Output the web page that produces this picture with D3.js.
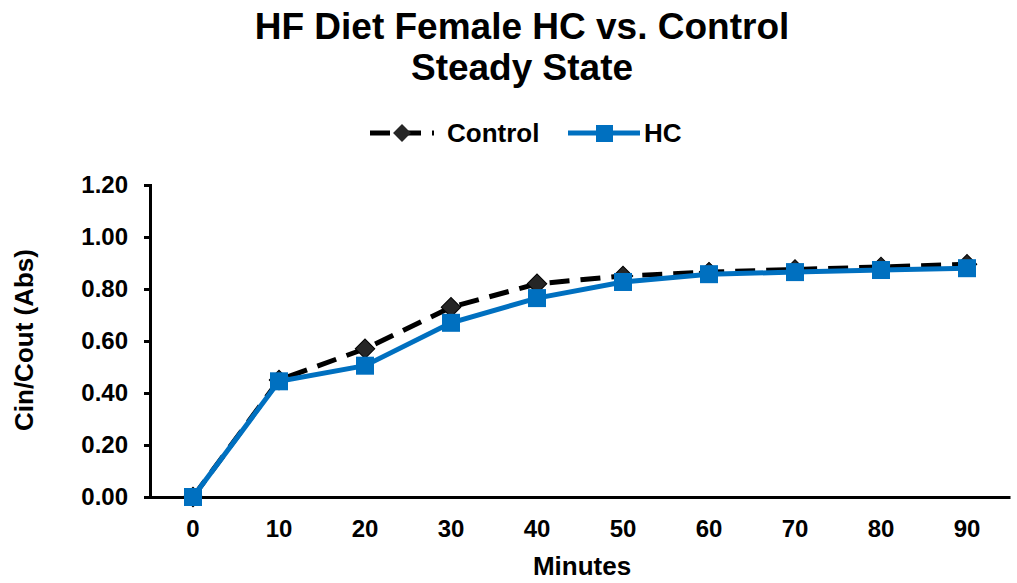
<!DOCTYPE html>
<html lang="en">
<head>
    <meta charset="utf-8">
    <script src="https://cdn.jsdelivr.net/npm/d3@7"></script>
    <style>
        body { margin: 0; background: #fff; }
        text { font-family: "Liberation Sans", Arial, sans-serif; font-weight: bold; fill: #000; }
        .domain { stroke: #000; stroke-width: 3px; }
        .tick line { stroke: #000; stroke-width: 3px; }
    </style>
</head>
<body>
<script>
    const minutes = [0, 10, 20, 30, 40, 50, 60, 70, 80, 90];
    const control = [0, 0.45, 0.57, 0.73, 0.82, 0.85, 0.865, 0.875, 0.885, 0.895];
    const hc = [0, 0.445, 0.505, 0.67, 0.765, 0.827, 0.857, 0.865, 0.873, 0.88];
    const yTicks = [0, 0.2, 0.4, 0.6, 0.8, 1.0, 1.2];

    const width = 1017, height = 583;
    const svg = d3.select('body').append('svg')
        .attr('width', width).attr('height', height);

    const x = d3.scaleBand().domain(minutes).range([150, 1010]);
    const y = d3.scaleLinear().domain([0, 1.2]).range([497, 185]);
    const cx = d => x(d) + x.bandwidth() / 2;

    // title
    svg.append('text').attr('x', 522).attr('y', 39).attr('text-anchor', 'middle')
        .style('font-size', '37px').text('HF Diet Female HC vs. Control');
    svg.append('text').attr('x', 522).attr('y', 80).attr('text-anchor', 'middle')
        .style('font-size', '37px').text('Steady State');

    // axes
    svg.append('g').attr('transform', 'translate(150,0)')
        .call(d3.axisLeft(y).tickValues(yTicks).tickFormat(d3.format('.2f')).tickSize(6).tickPadding(16))
        .call(g => g.selectAll('text').style('font-size', '24px'));

    svg.append('g').attr('transform', 'translate(0,497)')
        .call(d3.axisBottom(x).tickSize(0).tickPadding(23).tickSizeOuter(0))
        .call(g => g.selectAll('text').style('font-size', '24px'));

    svg.append('text').attr('x', 582).attr('y', 575).attr('text-anchor', 'middle')
        .style('font-size', '26px').text('Minutes');
    svg.append('text').attr('transform', 'translate(33,340) rotate(-90)')
        .attr('text-anchor', 'middle').style('font-size', '26px').text('Cin/Cout (Abs)');

    const line = d3.line().x((d, i) => cx(minutes[i])).y(d => y(d));

    // control series
    svg.append('path').datum(control).attr('d', line)
        .attr('fill', 'none').attr('stroke', '#000').attr('stroke-width', 5)
        .attr('stroke-dasharray', '20,11');
    svg.append('g').selectAll('path').data(control).join('path')
        .attr('d', d3.symbol(d3.symbolSquare, 190)())
        .attr('transform', (d, i) => `translate(${cx(minutes[i])},${y(d)}) rotate(45)`)
        .attr('fill', '#262626').attr('stroke', '#000').attr('stroke-width', 1);

    // HC series
    svg.append('path').datum(hc).attr('d', line)
        .attr('fill', 'none').attr('stroke', '#0070C0').attr('stroke-width', 5);
    svg.append('g').selectAll('rect').data(hc).join('rect')
        .attr('x', (d, i) => cx(minutes[i]) - 9).attr('y', d => y(d) - 9)
        .attr('width', 18).attr('height', 18).attr('fill', '#0070C0');

    // legend
    const lg = svg.append('g');
    lg.append('line').attr('x1', 370).attr('x2', 434).attr('y1', 133).attr('y2', 133)
        .attr('stroke', '#000').attr('stroke-width', 5).attr('stroke-dasharray', '20,11');
    lg.append('path').attr('d', d3.symbol(d3.symbolSquare, 160)())
        .attr('transform', 'translate(402,133) rotate(45)').attr('fill', '#262626');
    lg.append('text').attr('x', 447).attr('y', 142).style('font-size', '26px').text('Control');
    lg.append('line').attr('x1', 568).attr('x2', 640).attr('y1', 133).attr('y2', 133)
        .attr('stroke', '#0070C0').attr('stroke-width', 5);
    lg.append('rect').attr('x', 596).attr('y', 125).attr('width', 17).attr('height', 17)
        .attr('fill', '#0070C0');
    lg.append('text').attr('x', 644).attr('y', 142).style('font-size', '26px').text('HC');
</script>
</body>
</html>
